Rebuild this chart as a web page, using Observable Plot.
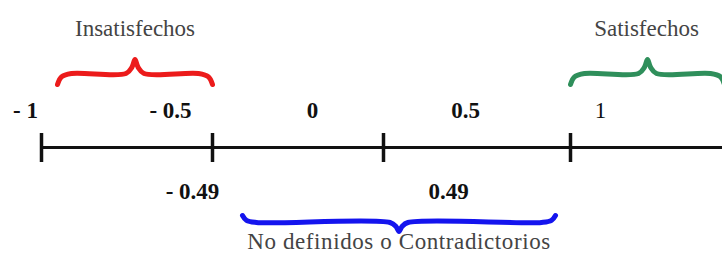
<!DOCTYPE html>
<html>
<head>
<meta charset="utf-8">
<script src="https://cdn.jsdelivr.net/npm/d3@7"></script>
<script src="https://cdn.jsdelivr.net/npm/@observablehq/plot@0.6"></script>
<style>
  html, body { margin: 0; padding: 0; background: #fff; }
  #chart svg { display: block; }
  .wide-title text { letter-spacing: 0.6px; }
</style>
</head>
<body>
<div id="chart"></div>
<script>
// Positions are expressed in diagram units along the number line (0 = left edge).
const axisStart = 40;
const axisEnd = 722;
const tickPositions = [41, 212, 383, 570];

const upperLabels = ["- 1", "- 0.5", "0", "0.5", "1"];
const upperLabelPos = [25, 170, 312, 465, 600];
const upperLabelBold = [true, true, true, true, false];

const lowerLabels = ["- 0.49", "0.49"];
const lowerLabelPos = [192, 448];

const groupNames = ["Insatisfechos", "Satisfechos", "No definidos o Contradictorios"];
const groupStart = [57, 570, 242];
const groupEnd = [212, 724, 555];
const groupSide = ["top", "top", "bottom"];
const groupColors = ["#ec1b1b", "#2f8f5b", "#1414ee"];

// Layout rows (vertical diagram units, 0 = top)
const row = {
  groupTitleTop: 35,
  braceTopEnd: 84, braceTopBody: 73, braceTopTip: 59,
  upperLabel: 117,
  axis: 147, tickTop: 133, tickBottom: 162,
  lowerLabel: 198,
  braceBotEnd: 215, braceBotBody: 222, braceBotTip: 231,
  groupTitleBottom: 248
};

// Build brace outlines from each group's span
function bracePoints(name, x1, x2, side) {
  const top = side === "top";
  const yE = top ? row.braceTopEnd : row.braceBotEnd;
  const yB = top ? row.braceTopBody : row.braceBotBody;
  const yT = top ? row.braceTopTip : row.braceBotTip;
  const m = (x1 + x2) / 2;
  const s = (yB - yE);
  const pts = [
    [x1, yE], [x1 + 4, yE + s * 0.7], [x1 + 14, yB], [m - 9, yB],
    [m - 3, yB + (yT - yB) * 0.45], [m, yT], [m + 3, yB + (yT - yB) * 0.45],
    [m + 9, yB], [x2 - 14, yB], [x2 - 4, yE + s * 0.7], [x2, yE]
  ];
  return pts.map(([x, y]) => ({name, x, y}));
}
const braceData = groupNames.flatMap((n, i) => bracePoints(n, groupStart[i], groupEnd[i], groupSide[i]));

const upperData = upperLabels.map((t, i) => ({t, x: upperLabelPos[i], bold: upperLabelBold[i]}));
const lowerData = lowerLabels.map((t, i) => ({t, x: lowerLabelPos[i]}));
const titleData = groupNames.map((t, i) => ({
  t,
  x: (groupStart[i] + Math.min(groupEnd[i], 722)) / 2,
  y: groupSide[i] === "top" ? row.groupTitleTop : row.groupTitleBottom,
  side: groupSide[i]
}));

const serif = "'Liberation Serif', 'Times New Roman', serif";

const chart = Plot.plot({
  width: 722,
  height: 253,
  margin: 0,
  x: {domain: [0, 722], range: [0, 722]},
  y: {domain: [0, 253], range: [0, 253]},
  axis: null,
  color: {domain: groupNames, range: groupColors},
  marks: [
    Plot.ruleY([row.axis], {x1: axisStart, x2: axisEnd, stroke: "#111", strokeWidth: 3}),
    Plot.ruleX(tickPositions, {y1: row.tickTop, y2: row.tickBottom, stroke: "#111", strokeWidth: 3.5}),
    Plot.line(braceData, {x: "x", y: "y", z: "name", stroke: "name", strokeWidth: 5,
      curve: "catmull-rom", strokeLinecap: "round", strokeLinejoin: "round"}),
    Plot.text(upperData.filter(d => d.bold), {x: "x", y: () => row.upperLabel, text: "t",
      fontFamily: serif, fontSize: 23, fontWeight: "bold", fill: "#111", lineAnchor: "bottom"}),
    Plot.text(upperData.filter(d => !d.bold), {x: "x", y: () => row.upperLabel, text: "t",
      fontFamily: serif, fontSize: 23, fill: "#111", lineAnchor: "bottom"}),
    Plot.text(lowerData, {x: "x", y: () => row.lowerLabel, text: "t",
      fontFamily: serif, fontSize: 23, fontWeight: "bold", fill: "#111", lineAnchor: "bottom"}),
    Plot.text(titleData.filter(d => d.side === "top"), {x: "x", y: "y", text: "t",
      fontFamily: serif, fontSize: 23, fill: "#444", lineAnchor: "bottom"}),
    Plot.text(titleData.filter(d => d.side === "bottom"), {x: "x", y: "y", text: "t",
      fontFamily: serif, fontSize: 23, fill: "#444", lineAnchor: "bottom", className: "wide-title"})
  ]
});
document.getElementById("chart").appendChild(chart);
</script>
</body>
</html>
